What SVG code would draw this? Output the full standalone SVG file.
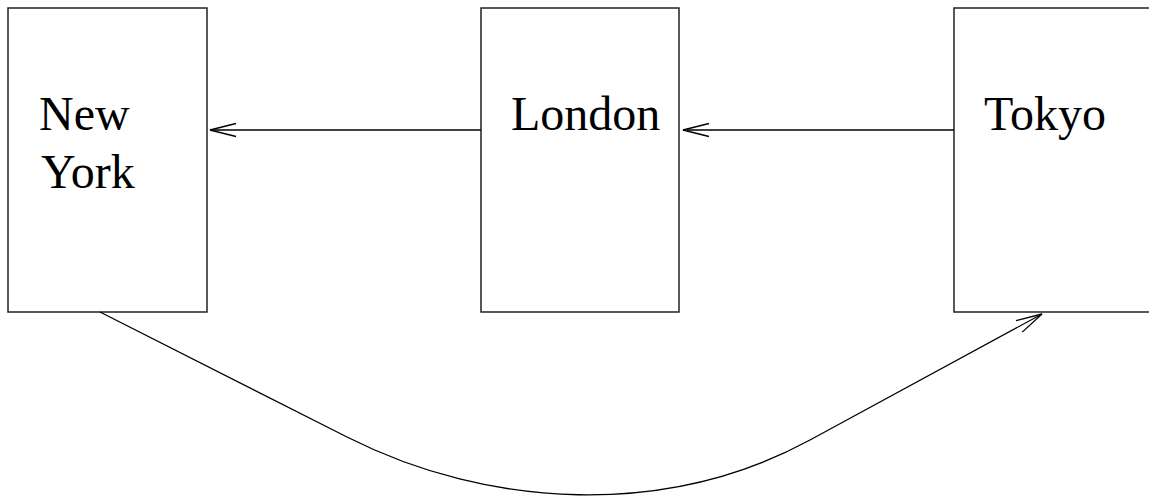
<svg xmlns="http://www.w3.org/2000/svg" width="1149" height="498" viewBox="0 0 1149 498">
  <style>
    .box { fill: #ffffff; stroke: #222222; stroke-width: 1.5; }
    .label { font-family: 'Liberation Serif', 'Times New Roman', 'DejaVu Serif', serif; font-size: 48px; fill: #000000; }
    .link { fill: none; stroke: #000000; stroke-width: 1.3; marker-end: url(#openArrow); }
  </style>
  <defs>
    <marker id="openArrow" markerUnits="userSpaceOnUse" viewBox="-28 -8 30 16" refX="0" refY="0" markerWidth="30" markerHeight="16" orient="auto" overflow="visible">
      <path d="M-26,-6.5 L0,0 L-26,6.5" fill="none" stroke="#000000" stroke-width="1.3"/>
    </marker>
  </defs>
  <rect width="1149" height="498" fill="#ffffff"/>

  <g id="new-york">
    <rect class="box" x="8" y="8" width="199" height="304"/>
    <text class="label" font-family="Liberation Serif, serif" x="39" y="130">New</text>
    <text class="label" font-family="Liberation Serif, serif" x="41" y="188">York</text>
  </g>

  <g id="london">
    <rect class="box" x="481" y="8" width="198" height="304"/>
    <text class="label" font-family="Liberation Serif, serif" x="511" y="130">London</text>
  </g>

  <g id="tokyo">
    <rect class="box" x="954" y="8" width="210" height="304"/>
    <text class="label" font-family="Liberation Serif, serif" x="984" y="130">Tokyo</text>
  </g>

  <g id="connectors">
    <path class="link" d="M481,130 L210,130"/>
    <path class="link" d="M954,130 L683,130"/>
    <path class="link" d="M100,312 L347,437 C490,509.4 667,517.6 810,440 L1042,314"/>
  </g>
</svg>
